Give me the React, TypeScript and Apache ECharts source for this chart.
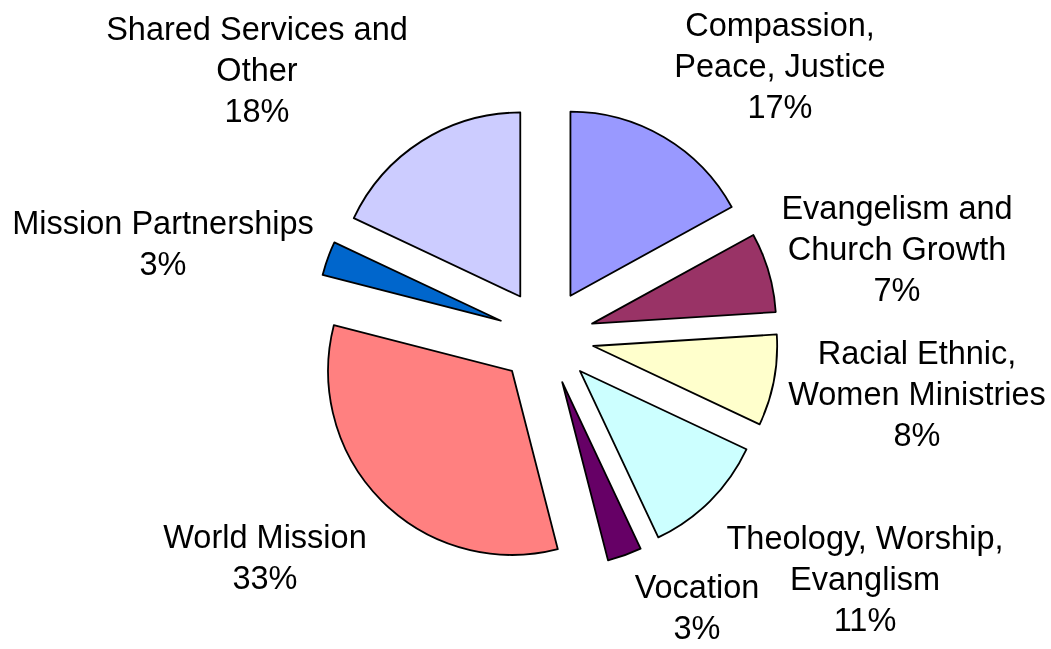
import React, { useEffect, useRef } from "react";
import * as echarts from "echarts";

const categories = [
  "Compassion,\nPeace, Justice",
  "Evangelism and\nChurch Growth",
  "Racial Ethnic,\nWomen Ministries",
  "Theology, Worship,\nEvanglism",
  "Vocation",
  "World Mission",
  "Mission Partnerships",
  "Shared Services and\nOther",
];
const values = [17, 7, 8, 11, 3, 33, 3, 18];
const colors = ["#9999FF", "#993366", "#FFFFCC", "#CCFFFF", "#660066", "#FF8080", "#0066CC", "#CCCCFF"];
const labelPositions = [
  [780, 66],
  [897, 249],
  [917, 394],
  [865, 579],
  [697, 607],
  [265, 557],
  [163, 243],
  [257, 70],
];

export default function App() {
  const ref = useRef<HTMLDivElement>(null);
  useEffect(() => {
    const chart = echarts.init(ref.current!, null, { renderer: "svg" });
    const total = values.reduce((a, b) => a + b, 0);
    chart.setOption({
      animation: false,
      graphic: categories.map((name, i) => ({
        type: "text",
        x: labelPositions[i][0],
        y: labelPositions[i][1],
        silent: true,
        style: {
          text: `${name}\n${Math.round((values[i] / total) * 100)}%`,
          fill: "#000",
          fontSize: 32.5,
          fontFamily: "'Liberation Sans', Arial, sans-serif",
          lineHeight: 41,
          align: "center",
          verticalAlign: "middle",
          textAlign: "center",
          textVerticalAlign: "middle",
        },
      })),
      series: [
        {
          type: "pie",
          center: [546, 337],
          radius: 184,
          startAngle: 90,
          clockwise: true,
          selectedMode: "multiple",
          selectedOffset: 48,
          emphasis: { disabled: true },
          itemStyle: { borderColor: "#000", borderWidth: 1.8 },
          select: { itemStyle: { borderColor: "#000", borderWidth: 1.8 } },
          label: { show: false },
          labelLine: { show: false },
          data: categories.map((name, i) => ({
            name,
            value: values[i],
            selected: true,
            itemStyle: { color: colors[i] },
          })),
        },
      ],
    });
    return () => chart.dispose();
  }, []);
  return (
    <div
      ref={ref}
      style={{ position: "fixed", left: 0, top: 0, width: 1051, height: 649 }}
    />
  );
}
